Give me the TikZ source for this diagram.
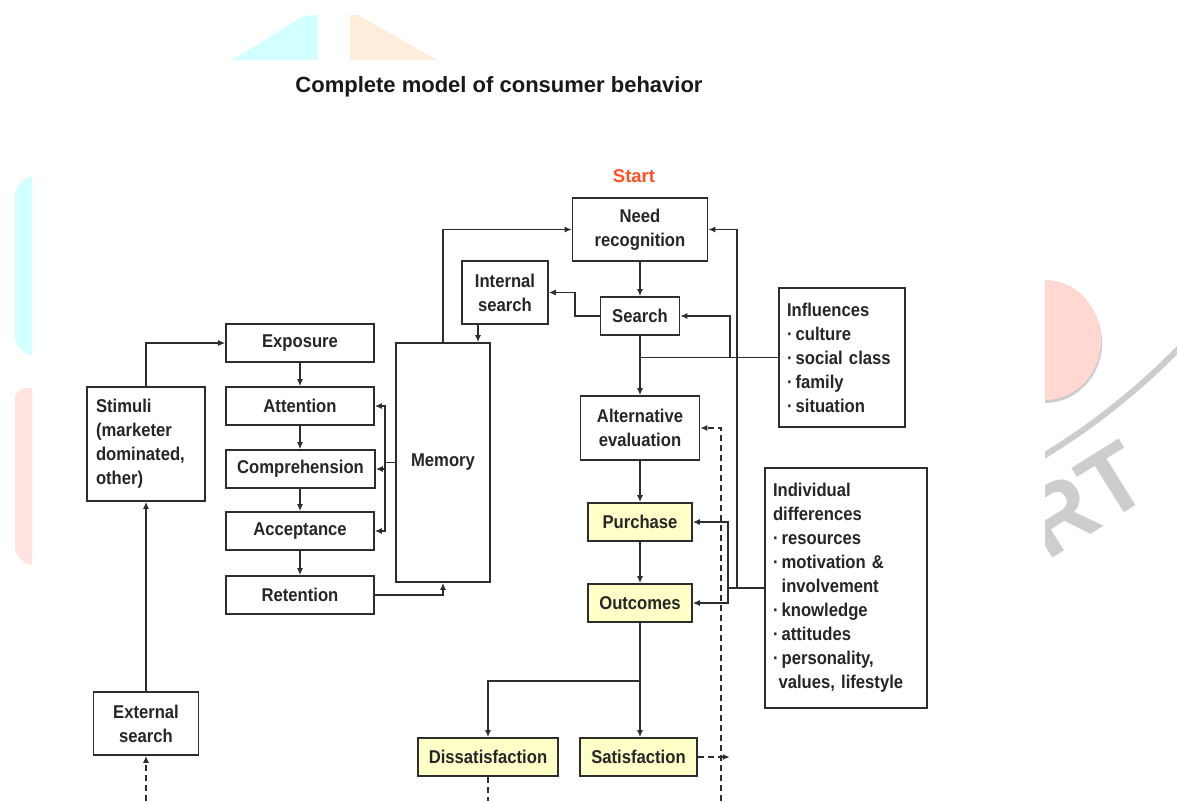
\documentclass[tikz,border=0pt]{standalone}
\usepackage{fontspec}
\setmainfont{Liberation Sans}
\newfontfamily\nodefont{Liberation Sans Bold}[FakeStretch=0.9]
\usetikzlibrary{arrows.meta}
\definecolor{yfill}{RGB}{255,255,200}
\definecolor{startred}{RGB}{255,80,35}
\definecolor{wcyan}{RGB}{210,255,255}
\definecolor{worange}{RGB}{255,237,220}
\definecolor{wpink}{RGB}{255,228,226}
\definecolor{wpinkd}{RGB}{255,216,210}
\definecolor{wgray}{RGB}{205,205,205}
\definecolor{lc}{RGB}{45,45,45}
\begin{document}
\begin{tikzpicture}[x=1pt,y=-1pt,
  box/.style={draw=lc, line width=1.6pt, fill=white, inner sep=0pt,
    font=\nodefont\fontsize{18.5}{24}\selectfont, align=center, text=black!85},
  lbox/.style={box, align=left},
  ybox/.style={box, fill=yfill},
  conn/.style={draw=lc, line width=1.6pt, -{Latex[length=7pt,width=6pt]}},
  plain/.style={draw=lc, line width=1.6pt},
  dconn/.style={conn, dash pattern=on 6pt off 4pt},
  dplain/.style={plain, dash pattern=on 6pt off 4pt}]
\useasboundingbox (0,0) rectangle (1177,801);
\fill[white] (0,0) rectangle (1177,801);
% watermark pieces
\fill[wcyan] (232,60) -- (304,16) -- (318,15) -- (318,60) -- cycle;
\fill[worange] (350,60) -- (350,15) -- (358,15) -- (437,60) -- cycle;
\fill[wcyan] (32,176) -- (32,355) -- (26,354) -- (18,346) -- (15,340) -- (15,193) -- (18,186) -- (25,179) -- cycle;
\fill[wpink] (32,388) -- (32,565) -- (26,564) -- (18,556) -- (15,550) -- (15,395) -- (20,390) -- (25,388) -- cycle;
\begin{scope}
  \clip (1045,0) rectangle (1177,801);
  \fill[wgray] (1045,283) arc[start angle=-90, end angle=90, x radius=57, y radius=60];
  \fill[wpinkd] (1045,280) arc[start angle=-90, end angle=90, x radius=56, y radius=60];
  \draw[wgray, line width=6pt] (1030,464) .. controls (1090,429) and (1140,389) .. (1185,342);
  \node[font=\bfseries\fontsize{95}{95}\selectfont, text=wgray, rotate=32, inner sep=0pt] (wm) at (1084,500) {RT};
\end{scope}
% title
\node[font=\bfseries\fontsize{22}{26}\selectfont, text=black!90] (title) at (499,87) {Complete model of consumer behavior};
\node[font=\bfseries\fontsize{18.5}{22}\selectfont, text=startred] (start) at (634,176) {Start};
% nodes
\node[box, minimum width=135pt, minimum height=63pt] (need) at (640,229.5) {Need\\recognition};
\node[box, minimum width=86pt, minimum height=63pt] (isearch) at (505,292.5) {Internal\\search};
\node[box, minimum width=79pt, minimum height=38pt] (search) at (640,316) {Search};
\node[lbox, text width=110pt, minimum height=139pt, inner xsep=8pt] (infl) at (842,357.5) {Influences\\·\,culture\\·\,social class\\·\,family\\·\,situation};
\node[box, minimum width=148pt, minimum height=38pt] (expo) at (300,343) {Exposure};
\node[box, minimum width=94pt, minimum height=239pt] (memory) at (443,462.5) {Memory};
\node[lbox, text width=100pt, minimum height=114pt, inner xsep=9pt] (stim) at (146,444) {Stimuli\\(marketer\\dominated,\\other)};
\node[box, minimum width=148pt, minimum height=38pt] (atten) at (300,406) {Attention};
\node[box, minimum width=149pt, minimum height=38pt] (compr) at (300.5,469) {Comprehension};
\node[box, minimum width=148pt, minimum height=38pt] (accept) at (300,531) {Acceptance};
\node[box, minimum width=148pt, minimum height=38pt] (retent) at (300,595) {Retention};
\node[box, minimum width=119pt, minimum height=64pt] (alteval) at (640,428) {Alternative\\evaluation};
\node[lbox, text width=146pt, minimum height=240pt, inner xsep=8pt] (indiv) at (846,588) {Individual\\differences\\·\,resources\\·\,motivation \&\\\phantom{·\,}involvement\\·\,knowledge\\·\,attitudes\\·\,personality,\\\phantom{·}values, lifestyle};
\node[ybox, minimum width=104pt, minimum height=38pt] (purch) at (640,522) {Purchase};
\node[ybox, minimum width=104pt, minimum height=38pt] (outc) at (640,603) {Outcomes};
\node[box, minimum width=105pt, minimum height=63pt] (ext) at (146,723.5) {External\\search};
\node[ybox, minimum width=140pt, minimum height=38pt] (dissat) at (488,757) {Dissatisfaction};
\node[ybox, minimum width=117pt, minimum height=38pt] (sat) at (638.5,757) {Satisfaction};
% helper coordinates
\coordinate (ja) at (730,357.5);
\coordinate (jb) at (737,588);
\coordinate (jc) at (728,588);
\coordinate (mb) at (385,462.5);
\coordinate (jo) at (640,681);
\coordinate (db) at (721,801);
\coordinate (bot) at (0,801);
% connectors
\draw[conn] (need.south) -- (search.north);
\draw[conn] (search.west) -- ([xshift=-25pt]search.west) |- (isearch.east);
\draw[conn] ([xshift=-27pt]isearch.south) -- ([xshift=-27pt]isearch.south |- memory.north);
\draw[conn] (memory.north) |- (need.west);
\draw[conn] (search.south) -- (alteval.north);
\draw[plain] (infl.west) -- (infl.west -| search.south);
\draw[conn] (ja) |- (search.east);
\draw[plain] (indiv.west) -- (jc);
\draw[conn] (jb) |- (need.east);
\draw[conn] (jc) |- (purch.east);
\draw[conn] (jc) |- (outc.east);
\draw[conn] (alteval.south) -- (purch.north);
\draw[conn] (purch.south) -- (outc.north);
\draw[plain] (outc.south) -- (jo);
\draw[conn] (jo) -| (dissat.north);
\draw[conn] (jo) -- (jo |- sat.north);
\draw[dconn] (db) |- (alteval.east);
\draw[dconn] (sat.east) -- ([xshift=32pt]sat.east);
\draw[dplain] (dissat.south) -- (dissat.south |- bot);
\draw[dconn] (ext.south |- bot) -- (ext.south);
\draw[conn] (ext.north) -- (stim.south);
\draw[conn] (stim.north) |- (expo.west);
\draw[conn] (expo.south) -- (atten.north);
\draw[conn] (atten.south) -- (atten.south |- compr.north);
\draw[conn] (atten.south |- compr.south) -- (accept.north);
\draw[conn] (accept.south) -- (retent.north);
\draw[plain] (memory.west) -- (mb);
\draw[conn] (mb) |- (atten.east);
\draw[conn] (mb) |- (compr.east);
\draw[conn] (mb) |- (accept.east);
\draw[conn] (retent.east) -| (memory.south);
\end{tikzpicture}
\end{document}
